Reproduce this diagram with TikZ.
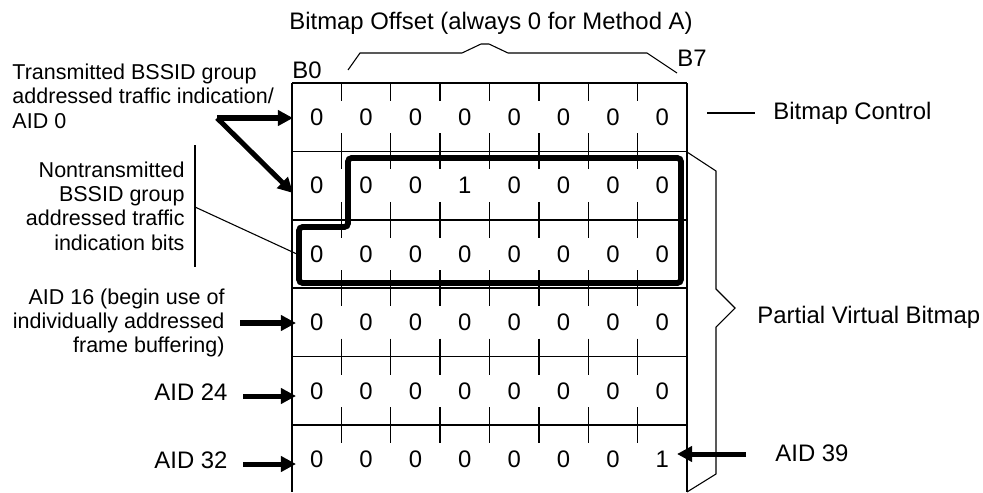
\documentclass[tikz,border=0pt]{standalone}
\usepackage{fontspec}
\setmainfont{Liberation Sans}
\usepackage{tikz}
\usetikzlibrary{arrows.meta,positioning,calc}
\definecolor{ink}{HTML}{000000}

\begin{document}
\begin{tikzpicture}[
  x=0.4186pt, y=-0.4186pt,
  every node/.style={inner sep=0pt, text=ink, font=\fontsize{10}{12}\selectfont},
  small/.style={font=\fontsize{9}{10.2}\selectfont},
  grid/.style={draw=ink, line width=0.6pt},
  leader/.style={draw=ink, line width=0.45pt},
  pointer/.style={-{Triangle[length=6.3pt, width=6.3pt]}, line width=2.1pt, draw=ink},
  rim/.style={draw=ink, line width=2.4pt, rounded corners=1.5pt}
]
\useasboundingbox (0,0) rectangle (983,492);

\draw[grid] (292,83) -- (292,492) (687,83) -- (687,492);
\foreach \r in {0,...,5}
  \draw[grid] (292,{83+68.4*\r}) -- (687,{83+68.4*\r});
\foreach \c in {1,...,7} {
  \draw[grid] ({292+49.375*\c},83) -- ++(0,18);
  \foreach \r in {1,...,5}
    \draw[grid] ({292+49.375*\c},{83+68.4*\r-18}) -- ++(0,36);
}

\foreach \r/\bits in {1/{0,0,0,0,0,0,0,0},2/{0,0,0,1,0,0,0,0},3/{0,0,0,0,0,0,0,0},4/{0,0,0,0,0,0,0,0},5/{0,0,0,0,0,0,0,0},6/{0,0,0,0,0,0,0,1}}
  \foreach \v [count=\c from 0] in \bits
    \node (b-\r-\c) at ({316.7+49.375*\c},{117.2+68.4*(\r-1)}) {\v};

\draw[rim] (348,158) -- (681,158) -- (681,283) -- (299,283) -- (299,227) -- (348,227) -- cycle;

\node (offset) at (491,23) {Bitmap Offset (always 0 for Method A)};
\node (b0) at (307,70) {B0};
\node (b7) at (692,58) {B7};
\draw[leader] (348,70) -- (360,53) -- (462,53) -- (481,44) -- (489,44) -- (508,53) -- (647,53) -- (677,73);

\node[anchor=west] (ctrl) at (773,113) {Bitmap Control};
\coordinate (ctrlend) at (707,113);
\draw[leader] (ctrlend) -- ($(ctrl.west)+(-18,0)$);

\node[anchor=west] (pvb) at (757,317) {Partial Virtual Bitmap};
\draw[leader] (687,152) -- (716,171) -- (716,289) -- (735,308) -- (716,327) -- (716,474) -- (687,492);

\node[small, align=left, anchor=west] (tx) at (12,96) {Transmitted BSSID group\\addressed traffic indication/\\AID 0};
\coordinate (fork) at (217,118);
\coordinate (tip0) at (293,118);
\coordinate (tip1) at (293,193);
\draw[pointer] (fork) -- (tip0);
\draw[pointer] (fork) -- (tip1);

\node[small, align=right, anchor=east] (ntx) at (185,206) {Nontransmitted\\BSSID group\\addressed traffic\\indication bits};
\coordinate (bartop) at (195,145);
\coordinate (barbot) at (195,267);
\coordinate (barmid) at (195,207);
\coordinate (rimleft) at (299,255);
\draw[leader] (bartop) -- (barbot);
\draw[leader] (barmid) -- (rimleft);

\node[small, align=right, anchor=east] (aid16) at (225,323) {AID 16 (begin use of\\individually addressed\\frame buffering)};
\node[anchor=east] (aid24) at (228,392) {AID 24};
\node[anchor=east] (aid32) at (228,460) {AID 32};
\node[anchor=west] (aid39) at (775,453) {AID 39};
\draw[pointer] ($(aid16.east)+(15,0)$) -- (296,323);
\draw[pointer] ($(aid24.east)+(15,4)$) -- (296,396);
\draw[pointer] ($(aid32.east)+(15,4)$) -- (296,464);
\draw[pointer] ($(aid39.west)+(-29,1)$) -- (677,454);
\end{tikzpicture}
\end{document}
